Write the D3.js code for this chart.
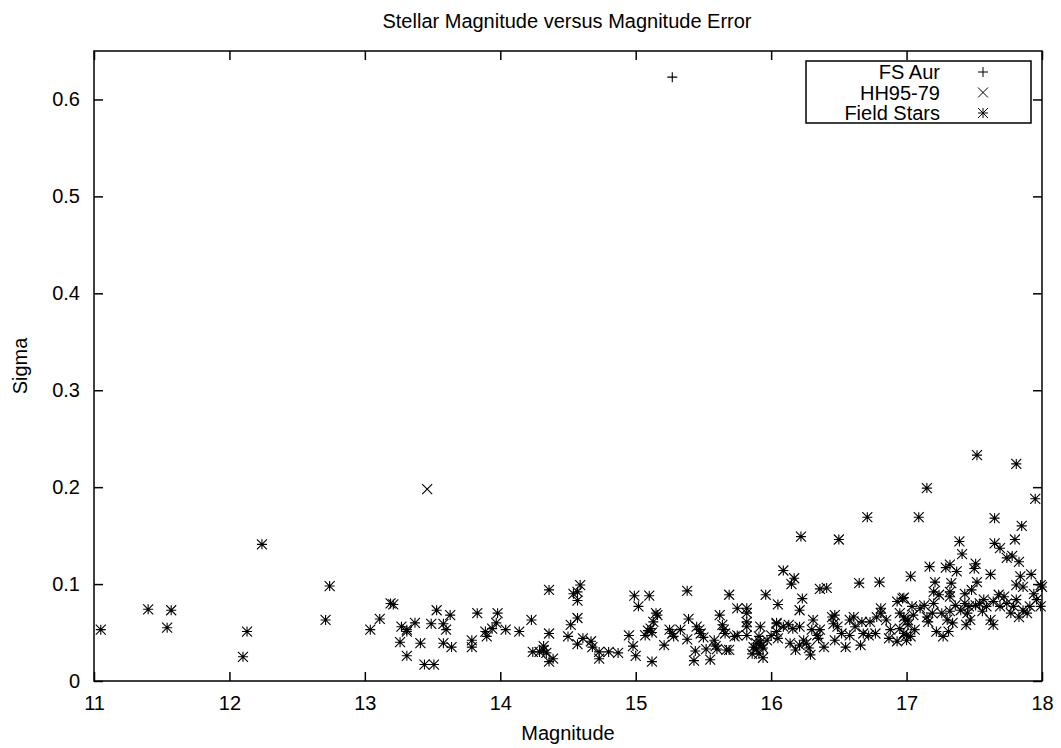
<!DOCTYPE html>
<html>
<head>
<meta charset="utf-8">
<script src="https://cdn.jsdelivr.net/npm/d3@7"></script>
<style>
  body { margin: 0; background: #fff; }
  svg { font-family: "Liberation Sans", Arial, Helvetica, sans-serif; }
</style>
</head>
<body>
<div id="chart"></div>
<script>
// FS Aur (single point)
const fsAur = [[15.27, 0.623]]
// HH95-79 (single point)
const hh9579 = [[13.46, 0.198]]
// field stars: [magnitude, sigma]
const fieldStars = [
  [11.05, 0.053], [11.40, 0.074], [11.57, 0.073], [11.54, 0.055], [12.10, 0.025],
  [12.13, 0.051], [12.24, 0.141], [12.71, 0.063], [12.74, 0.098], [13.04, 0.053],
  [13.11, 0.064], [13.19, 0.080], [13.21, 0.079], [13.27, 0.056], [13.31, 0.053],
  [13.31, 0.051], [13.26, 0.040], [13.31, 0.026], [13.37, 0.060], [13.41, 0.039],
  [13.44, 0.017], [13.51, 0.017], [13.49, 0.059], [13.53, 0.073], [13.58, 0.059],
  [13.58, 0.039], [13.60, 0.053], [13.63, 0.068], [13.64, 0.035],
  [13.83, 0.070], [13.79, 0.042], [13.79, 0.035], [13.89, 0.051], [13.90, 0.046],
  [13.94, 0.054], [13.97, 0.060], [13.98, 0.070], [14.04, 0.053], [14.14, 0.051],
  [14.23, 0.063], [14.24, 0.030], [14.29, 0.030], [14.32, 0.036], [14.32, 0.032],
  [14.34, 0.029], [14.36, 0.049], [14.36, 0.094], [14.36, 0.020], [14.39, 0.023],
  [14.50, 0.046], [14.52, 0.058], [14.54, 0.090], [14.57, 0.092], [14.59, 0.099],
  [14.57, 0.083], [14.57, 0.065], [14.57, 0.038], [14.61, 0.044], [14.67, 0.041],
  [14.68, 0.035], [14.73, 0.030], [14.73, 0.023], [14.80, 0.030], [14.87, 0.029],
  [14.95, 0.047], [14.98, 0.036], [15.00, 0.026], [14.99, 0.088], [15.10, 0.088],
  [15.02, 0.077], [15.12, 0.020], [15.15, 0.070], [15.16, 0.068], [15.13, 0.061],
  [15.11, 0.054], [15.09, 0.052], [15.07, 0.047], [15.12, 0.050], [15.21, 0.037],
  [15.25, 0.053], [15.27, 0.049], [15.28, 0.046], [15.33, 0.053], [15.38, 0.093],
  [15.39, 0.064], [15.38, 0.043], [15.45, 0.056], [15.47, 0.053], [15.48, 0.049],
  [15.50, 0.045], [15.44, 0.031], [15.43, 0.021], [15.52, 0.033], [15.55, 0.022],
  [15.58, 0.042], [15.59, 0.036], [15.60, 0.033], [15.62, 0.068], [15.64, 0.058],
  [15.65, 0.053], [15.66, 0.049], [15.67, 0.032], [15.69, 0.032], [15.69, 0.089],
  [15.75, 0.075], [15.73, 0.046], [15.75, 0.047], [15.82, 0.075], [15.82, 0.070],
  [15.82, 0.061], [15.82, 0.056], [15.82, 0.047], [15.87, 0.035], [15.89, 0.033],
  [15.91, 0.028], [15.94, 0.024], [15.92, 0.040], [15.91, 0.046], [15.93, 0.037],
  [15.97, 0.042], [15.94, 0.034], [15.86, 0.028], [15.89, 0.039], [15.92, 0.056],
  [15.96, 0.089], [16.00, 0.047], [16.04, 0.059], [16.04, 0.051], [16.05, 0.079],
  [16.71, 0.169], [16.22, 0.149], [16.50, 0.146], [16.09, 0.114], [16.17, 0.106],
  [16.15, 0.100], [16.36, 0.095], [16.41, 0.096], [16.65, 0.101], [16.80, 0.102],
  [16.23, 0.085], [16.21, 0.073], [16.93, 0.082], [16.97, 0.085], [16.81, 0.075],
  [16.04, 0.060], [16.09, 0.056], [16.13, 0.058], [16.16, 0.054], [16.21, 0.056],
  [16.05, 0.044], [16.14, 0.039], [16.18, 0.032], [16.21, 0.037], [16.24, 0.042],
  [16.26, 0.039], [16.29, 0.027], [16.28, 0.034], [16.31, 0.063], [16.30, 0.053],
  [16.34, 0.047], [16.36, 0.053], [16.35, 0.044], [16.39, 0.035], [16.45, 0.066],
  [16.47, 0.068], [16.46, 0.059], [16.49, 0.056], [16.52, 0.049], [16.47, 0.042],
  [16.55, 0.035], [16.58, 0.063], [16.61, 0.066], [16.62, 0.056], [16.58, 0.047],
  [16.66, 0.037], [16.67, 0.061], [16.68, 0.049], [16.72, 0.047], [16.73, 0.061],
  [16.77, 0.049], [16.78, 0.066], [16.81, 0.070], [16.85, 0.063], [16.88, 0.053],
  [16.87, 0.044], [16.93, 0.041], [16.95, 0.054], [16.98, 0.066], [17.00, 0.047],
  [17.01, 0.063],
  [17.52, 0.233], [17.81, 0.224], [17.15, 0.199], [17.95, 0.188], [17.09, 0.169],
  [17.65, 0.168], [17.85, 0.160], [17.39, 0.144], [17.65, 0.142], [17.80, 0.146],
  [17.69, 0.137], [17.41, 0.131], [17.74, 0.127], [17.78, 0.129], [17.83, 0.123],
  [17.03, 0.108], [17.17, 0.118], [17.29, 0.117], [17.32, 0.120], [17.37, 0.113],
  [17.51, 0.121], [17.50, 0.116], [17.62, 0.110], [17.52, 0.102], [17.21, 0.102],
  [17.33, 0.101], [17.84, 0.108], [17.92, 0.110], [17.99, 0.099], [16.98, 0.086],
  [17.20, 0.092], [17.24, 0.089], [17.20, 0.080], [17.32, 0.092], [17.32, 0.087],
  [17.43, 0.090], [17.48, 0.094], [17.81, 0.099], [17.86, 0.097],
  [16.95, 0.070], [16.99, 0.063], [17.01, 0.058], [16.98, 0.049], [17.03, 0.046],
  [17.06, 0.053], [17.05, 0.068], [17.10, 0.075], [17.13, 0.078], [17.15, 0.066],
  [17.19, 0.070], [17.16, 0.061], [17.22, 0.051], [17.27, 0.046], [17.26, 0.070],
  [17.30, 0.063], [17.32, 0.072], [17.34, 0.060], [17.36, 0.078], [17.40, 0.073],
  [17.43, 0.080], [17.45, 0.070], [17.46, 0.077], [17.47, 0.063], [17.51, 0.078],
  [17.56, 0.072], [17.54, 0.080], [17.57, 0.084], [17.59, 0.077], [17.62, 0.063],
  [17.64, 0.058], [17.64, 0.082], [17.68, 0.089], [17.69, 0.077], [17.72, 0.087],
  [17.74, 0.080], [17.77, 0.070], [17.79, 0.077], [17.81, 0.084], [17.83, 0.066],
  [17.86, 0.073], [17.89, 0.070], [17.91, 0.077], [17.94, 0.090], [17.96, 0.084],
  [17.99, 0.077], [18.00, 0.097], [17.44, 0.058], [17.31, 0.051], [17.00, 0.042],
  [17.04, 0.077]
]
const xTicks = [11, 12, 13, 14, 15, 16, 17, 18]
const yTicks = [0, 0.1, 0.2, 0.3, 0.4, 0.5, 0.6]
const legendLabels = ['FS Aur', 'HH95-79', 'Field Stars']

const width = 1061
const height = 748
const margin = { top: 51, right: 19, bottom: 67, left: 94 }
const plotW = width - margin.left - margin.right
const plotH = height - margin.top - margin.bottom
const fontSize = '20px'

const svg = d3.select('#chart').append('svg')
  .attr('width', width)
  .attr('height', height)

const plot = svg.append('g')
  .attr('transform', `translate(${margin.left}, ${margin.top})`)

// scales
const x = d3.scaleLinear().domain([11, 18]).range([0, plotW])
const y = d3.scaleLinear().domain([0, 0.65]).range([plotH, 0])

// point shapes, gnuplot style
const s = 5
const plusPath = `M${-s},0H${s}M0,${-s}V${s}`
const crossPath = `M${-s},${-s}L${s},${s}M${-s},${s}L${s},${-s}`
const starPath = plusPath + crossPath

// axes with inward ticks, mirrored on top and right
const tick = 9
plot.append('g')
  .attr('transform', `translate(0, ${plotH})`)
  .call(d3.axisBottom(x).tickValues(xTicks).tickFormat(d3.format('d'))
    .tickSizeInner(-tick).tickSizeOuter(0).tickPadding(15))
plot.append('g')
  .call(d3.axisTop(x).tickValues(xTicks).tickFormat('')
    .tickSizeInner(-tick).tickSizeOuter(0))
plot.append('g')
  .call(d3.axisLeft(y).tickValues(yTicks).tickFormat(d => d === 0 ? '0' : d3.format('.1f')(d))
    .tickSizeInner(-tick).tickSizeOuter(0).tickPadding(14))
plot.append('g')
  .attr('transform', `translate(${plotW}, 0)`)
  .call(d3.axisRight(y).tickValues(yTicks).tickFormat('')
    .tickSizeInner(-tick).tickSizeOuter(0))

plot.selectAll('.domain').remove()
plot.selectAll('.tick line').attr('stroke', '#000').attr('stroke-width', 1.5)
plot.selectAll('.tick text')
  .attr('font-size', fontSize)
  .attr('font-family', '"Liberation Sans", Arial, sans-serif')
  .attr('fill', '#000')

// frame
plot.append('rect')
  .attr('width', plotW)
  .attr('height', plotH)
  .attr('fill', 'none')
  .attr('stroke', '#000')
  .attr('stroke-width', 1.5)

// points
const drawPoints = (data, path) => {
  plot.append('g').selectAll('path')
    .data(data)
    .enter()
    .append('path')
    .attr('transform', d => `translate(${x(d[0])}, ${y(d[1])})`)
    .attr('d', path)
    .attr('fill', 'none')
    .attr('stroke', '#000')
    .attr('stroke-width', 1.1)
}
drawPoints(fieldStars, starPath)
drawPoints(hh9579, crossPath)
drawPoints(fsAur, plusPath)

// legend
const legend = svg.append('g').attr('transform', 'translate(806, 61)')
legend.append('rect')
  .attr('width', 225)
  .attr('height', 62)
  .attr('fill', '#fff')
  .attr('stroke', '#000')
  .attr('stroke-width', 1.5)
const shapes = [plusPath, crossPath, starPath]
legendLabels.forEach((label, i) => {
  const row = legend.append('g').attr('transform', `translate(0, ${11 + i * 20.5})`)
  row.append('text')
    .attr('x', 134)
    .attr('dy', '0.35em')
    .attr('text-anchor', 'end')
    .attr('font-size', fontSize)
    .text(label)
  row.append('path')
    .attr('transform', 'translate(177, 0)')
    .attr('d', shapes[i])
    .attr('fill', 'none')
    .attr('stroke', '#000')
    .attr('stroke-width', 1)
})

// title and axis labels
svg.append('text')
  .attr('x', 567)
  .attr('y', 28)
  .attr('text-anchor', 'middle')
  .attr('font-size', fontSize)
  .text('Stellar Magnitude versus Magnitude Error')
svg.append('text')
  .attr('x', margin.left + plotW / 2)
  .attr('y', 740)
  .attr('text-anchor', 'middle')
  .attr('font-size', fontSize)
  .text('Magnitude')
svg.append('text')
  .attr('transform', `translate(27, ${margin.top + plotH / 2}) rotate(-90)`)
  .attr('text-anchor', 'middle')
  .attr('font-size', fontSize)
  .text('Sigma')
</script>
</body>
</html>
